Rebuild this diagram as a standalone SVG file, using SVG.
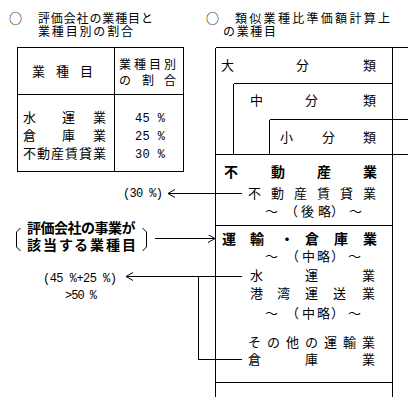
<svg xmlns="http://www.w3.org/2000/svg" width="420" height="407" viewBox="0 0 420 407">
<style>
.t{font-family:"Noto Sans CJK JP","Noto Sans CJK SC",sans-serif;font-size:13px;fill:#000}
.h{font-family:"Noto Sans CJK JP","Noto Sans CJK SC",sans-serif;font-size:12px;fill:#000}
.b{font-family:"Noto Sans CJK JP","Noto Sans CJK SC",sans-serif;font-size:14px;font-weight:bold;fill:#000}
.m{font-family:"Liberation Mono","DejaVu Sans Mono",monospace;font-size:12px;fill:#000}
.ln{stroke:#000;stroke-width:1;fill:none;shape-rendering:crispEdges}
.br{stroke:#000;stroke-width:1;fill:none}
</style>
<defs>
<marker id="arr" markerUnits="userSpaceOnUse" markerWidth="10" markerHeight="10" refX="7" refY="4" orient="auto">
<path d="M0,0 L7,4 L0,8" fill="none" stroke="#000" stroke-width="1"/>
</marker>
</defs>
<rect width="420" height="407" fill="#fff"/>

<g id="header-left">
<text class="t" x="9" y="23" font-size="14">○</text>
<text class="h" x="38" y="22.5" textLength="115" lengthAdjust="spacing">評価会社の業種目と</text>
<text class="h" x="38" y="35.5" textLength="95" lengthAdjust="spacing">業種目別の割合</text>
</g>

<g id="table">
<rect class="ln" x="17.5" y="47.5" width="166" height="124"/>
<line class="ln" x1="114.5" y1="47.5" x2="114.5" y2="171.5"/>
<line class="ln" x1="17.5" y1="94.5" x2="183.5" y2="94.5"/>
<text class="t" x="32 56 80" y="76">業種目</text>
<text class="h" x="119 134 149 164" y="69">業種目別</text>
<text class="h" x="119 142 164" y="85">の割合</text>
<text class="t" x="23 62 93" y="122">水運業</text>
<text class="t" x="23 62 93" y="140">倉庫業</text>
<text class="t" x="23 37 51 65 79 93" y="158">不動産賃貸業</text>
<text class="m" x="135" y="122" textLength="30" lengthAdjust="spacing">45 %</text>
<text class="m" x="135" y="140" textLength="30" lengthAdjust="spacing">25 %</text>
<text class="m" x="135" y="158" textLength="30" lengthAdjust="spacing">30 %</text>
</g>

<g id="header-right">
<text class="t" x="206" y="23" font-size="14">○</text>
<text class="h" x="235" y="22.5" textLength="155" lengthAdjust="spacing">類似業種比準価額計算上</text>
<text class="h" x="223" y="35.5" textLength="53" lengthAdjust="spacing">の業種目</text>
</g>

<g id="classification-frame">
<line class="ln" x1="215.5" y1="47.5" x2="408" y2="47.5"/>
<line class="ln" x1="215.5" y1="47.5" x2="215.5" y2="397"/>
<line class="ln" x1="392.5" y1="47.5" x2="392.5" y2="397"/>
<line class="ln" x1="233.5" y1="83.5" x2="392.5" y2="83.5"/>
<line class="ln" x1="233.5" y1="83.5" x2="233.5" y2="154.5"/>
<line class="ln" x1="269.5" y1="119.5" x2="408" y2="119.5"/>
<line class="ln" x1="269.5" y1="119.5" x2="269.5" y2="154.5"/>
<line class="ln" x1="215.5" y1="154.5" x2="408" y2="154.5"/>
<line class="ln" x1="215.5" y1="225.5" x2="392.5" y2="225.5"/>
<line class="ln" x1="215.5" y1="382.5" x2="392.5" y2="382.5"/>
</g>

<g id="node-dai">
<text class="t" x="221 296 363" y="70">大分類</text>
</g>
<g id="node-chu">
<text class="t" x="250 305 363" y="105">中分類</text>
</g>
<g id="node-sho">
<text class="t" x="280 322 363" y="142">小分類</text>
</g>

<g id="node-fudosan">
<text class="b" x="224 271 317 363" y="177">不動産業</text>
<text class="t" x="248 271 294 317 340 363" y="198">不動産賃貸業</text>
<text class="t" x="265 285 301 318 331 349" y="216">～（後略）～</text>
</g>

<g id="node-unyu">
<text class="b" x="222 250 280 305 334 363" y="244">運輸・倉庫業</text>
<text class="t" x="265 286 302 317 331 348" y="261">～（中略）～</text>
<text class="t" x="250 305 362" y="280">水運業</text>
<text class="t" x="250 277 305 333 362" y="298">港湾運送業</text>
<text class="t" x="265 286 302 317 331 348" y="318">～（中略）～</text>
<text class="t" x="248 267 286 305 324 343 362" y="347">その他の運輸業</text>
<text class="t" x="248 305 362" y="364">倉庫業</text>
</g>

<g id="node-30pct">
<text class="m" x="123" y="197" textLength="40" lengthAdjust="spacing">(30 %)</text>
</g>

<g id="node-jigyo">
<path class="br" d="M20.5,228 L16.5,232 L16.5,247 L20.5,251"/>
<path class="br" d="M142.5,228 L146.5,232 L146.5,247 L142.5,251"/>
<text class="b" x="27 40.5 54 67.5 81 94.5 108 121.5" y="233" font-size="13.5">評価会社の事業が</text>
<text class="b" x="27 43 59 74 90 106 122" y="250">該当する業種目</text>
</g>

<g id="node-4525">
<text class="m" x="43" y="282" textLength="74" lengthAdjust="spacing">(45 %+25 %)</text>
<text class="m" x="65" y="299" textLength="32" lengthAdjust="spacing">&gt;50 %</text>
</g>

<g id="connectors">
<line class="ln" x1="242" y1="193.5" x2="168" y2="193.5" marker-end="url(#arr)"/>
<line class="ln" x1="155" y1="238.5" x2="215" y2="238.5" marker-end="url(#arr)"/>
<line class="ln" x1="242" y1="276.5" x2="126" y2="276.5" marker-end="url(#arr)"/>
<polyline class="ln" points="242,359.5 198.5,359.5 198.5,276.5"/>
</g>
</svg>
